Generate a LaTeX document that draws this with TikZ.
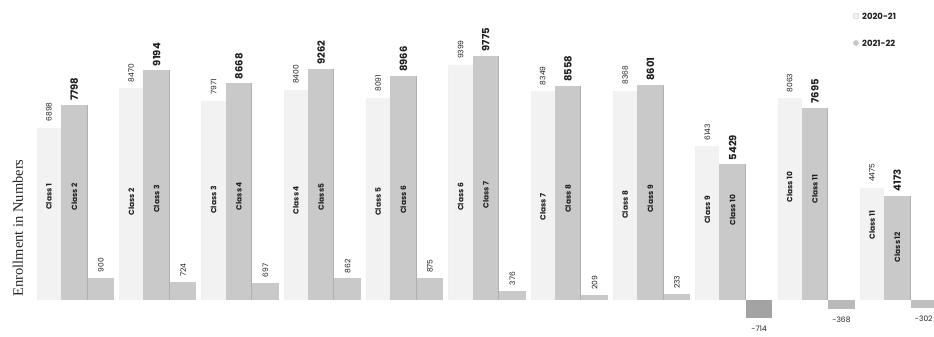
\documentclass[tikz,border=0pt]{standalone}
\usepackage{fontspec}
\setmainfont{Poppins}
\newfontfamily\axisfont{Liberation Serif}

\definecolor{oldbar}{gray}{0.95}
\definecolor{newbar}{gray}{0.79}
\definecolor{labelcol}{gray}{0.12}

\tikzset{
  oldval/.style={rotate=90, anchor=west, inner sep=0pt, text=labelcol, font=\fontsize{7.5}{8}\selectfont},
  newval/.style={rotate=90, anchor=west, inner sep=0pt, text=labelcol, font=\fontsize{10}{11}\selectfont\bfseries},
  diffval/.style={inner sep=0pt, text=labelcol, font=\fontsize{7.5}{8}\selectfont},
  classlab/.style={rotate=90, inner sep=0pt, text=labelcol, font=\fontsize{7.5}{8}\selectfont\bfseries},
  legendlab/.style={anchor=west, inner sep=0pt, text=labelcol, font=\fontsize{8.5}{9}\selectfont\bfseries}
}

\begin{document}
\begin{tikzpicture}[x=1pt,y=1pt]
\useasboundingbox (0,0) rectangle (934,337);

\foreach \k/\old/\new/\diff/\dcol/\ya/\yb/\cb in {
  1/6898/7798/900/gray!42/140/140/{Class 2},
  2/8470/9194/724/gray!42/135/138/{Class 3},
  3/7971/8668/697/gray!42/137/141/{Class 4},
  4/8400/9262/862/gray!42/137/140/{Class5},
  5/8091/8966/875/gray!42/135/137/{Class 6},
  6/9399/9775/376/gray!42/140/142/{Class 7},
  7/8349/8558/209/gray!42/130/138/{Class 8},
  8/8368/8601/233/gray!42/132/138/{Class 9},
  9/6143/5429/-714/gray!72/127/127/{Class 10},
  10/8063/7695/-368/gray!55/150/148/{Class 11},
  11/4475/4173/-302/gray!50/112/90/{Class 12}}{
  \pgfmathsetmacro\xa{37+82.3*(\k-1)}
  \pgfmathsetmacro\xb{\xa+24}
  \pgfmathsetmacro\xc{\xb+26.5}
  \pgfmathsetmacro\xd{\xc+26.5}
  \pgfmathsetmacro\ha{37+0.025*\old}
  \pgfmathsetmacro\hb{37+0.025*\new}
  \pgfmathsetmacro\hd{37+0.025*\diff}

  \fill [oldbar] (\xa,37) rectangle (\xb,\ha);
  \draw [gray!12] (\xa,37) -- (\xa,\ha);
  \fill [newbar] (\xb,37) rectangle (\xc,\hb);
  \draw [gray!62, line width=1pt] (\xc-0.5,37) -- (\xc-0.5,\hb);
  \fill [\dcol] (\xc,37) rectangle (\xd,\hd);

  \node [oldval] (o\k) at ({(\xa+\xb)/2},\ha+6) {\old};
  \node [newval] (n\k) at ({(\xb+\xc)/2},\hb+4) {\new};
  \node [classlab] (co\k) at ({(\xa+\xb)/2},\ya) {Class \k};
  \node [classlab] (cn\k) at ({(\xb+\xc)/2},\yb) {\cb};

  \ifnum\diff<0
    \node [diffval, anchor=north] (d\k) at ({(\xc+\xd)/2},\hd-8) {\diff};
  \else
    \node [diffval, rotate=90, anchor=west] (d\k) at ({(\xc+\xd)/2},\hd+5) {\diff};
  \fi
}

\node [rotate=90, text=black!85, font=\axisfont\fontsize{14.5}{15}\selectfont] (ylab) at (18,109) {Enrollment in Numbers};

\fill [oldbar, draw=gray!25] (853,318.5) rectangle (858,323.5);
\node [legendlab] (leg1) at (862,321) {2020-21};
\draw [gray!55, fill=newbar] (856,294) circle (2.5);
\node [legendlab] (leg2) at (862,294) {2021-22};
\end{tikzpicture}
\end{document}
